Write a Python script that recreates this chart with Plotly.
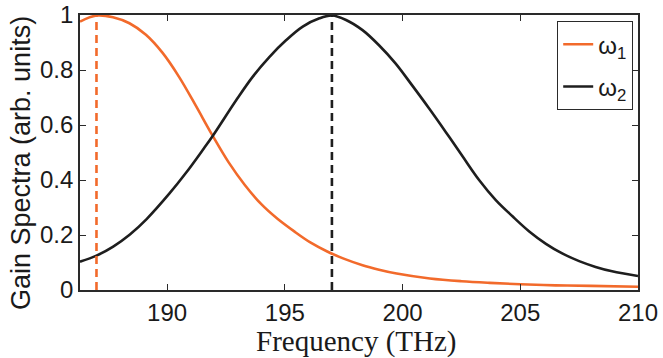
import plotly.graph_objects as go

# Frequencies (THz) and gain values
freq_w1 = [186.3, 187.0, 187.7, 188.4, 189.1, 189.8, 190.5, 191.2, 191.9, 192.6,
           193.3, 194.0, 194.7, 195.4, 196.1, 196.8, 197.5, 198.3, 199.0, 199.75,
           201.16, 202.5, 203.7, 205.0, 206.5, 208.0, 210.0]
gain_w1 = [0.976, 0.998, 0.992, 0.97, 0.928, 0.863, 0.776, 0.673, 0.566, 0.466,
           0.382, 0.312, 0.258, 0.213, 0.172, 0.14, 0.114, 0.09, 0.074, 0.06,
           0.042, 0.032, 0.026, 0.021, 0.017, 0.015, 0.012]

freq_w2 = [186.3, 187.0, 187.71, 188.42, 189.13, 190.11, 190.82, 191.52, 191.95, 192.94,
           193.64, 194.35, 195.06, 195.76, 196.47, 197.0, 197.6, 198.3, 199.0, 199.7,
           200.4, 201.13, 201.84, 202.54, 203.25, 203.96, 204.67, 205.38, 206.09, 206.8,
           207.5, 208.2, 208.9, 210.0]
gain_w2 = [0.103, 0.125, 0.158, 0.202, 0.258, 0.352, 0.428, 0.51, 0.562, 0.691,
           0.776, 0.848, 0.909, 0.958, 0.988, 0.998, 0.982, 0.945, 0.89, 0.824,
           0.745, 0.66, 0.574, 0.487, 0.4, 0.327, 0.268, 0.213, 0.168, 0.132,
           0.105, 0.084, 0.068, 0.051]

peak_freqs = [187.0, 197.0]
series_names = ["ω<sub>1</sub>", "ω<sub>2</sub>"]
x_ticks = [190, 195, 200, 205, 210]
y_ticks = [0, 0.2, 0.4, 0.6, 0.8, 1]
y_tick_labels = ["0", "0.2", "0.4", "0.6", "0.8", "1"]

ORANGE = "#F26A2B"
BLACK = "#1E1E1E"
AXC = "#2a2a2a"
SANS = "Liberation Sans, Arial, sans-serif"

fig = go.Figure()
fig.add_trace(go.Scatter(x=freq_w1, y=gain_w1, mode="lines", name=series_names[0],
                         legendgroup="a",
                         line=dict(color=ORANGE, width=2.6, shape="spline", smoothing=1.0)))
fig.add_trace(go.Scatter(x=freq_w2, y=gain_w2, mode="lines", name=series_names[1],
                         legendgroup="b",
                         line=dict(color=BLACK, width=2.6, shape="spline", smoothing=1.0)))
for pf, c in zip(peak_freqs, [ORANGE, BLACK]):
    fig.add_trace(go.Scatter(x=[pf, pf], y=[0, 1], mode="lines", showlegend=False,
                             line=dict(color=c, width=2.6, dash="8px,5px")))

axis_common = dict(showline=True, linecolor=AXC, linewidth=1.6, mirror="ticks",
                   ticks="inside", ticklen=6, tickcolor=AXC, tickwidth=1,
                   showgrid=False, zeroline=False, automargin=False,
                   tickfont=dict(family=SANS, size=24, color="#1a1a1a"))

fig.update_layout(
    width=663, height=358,
    margin=dict(l=80, r=25, t=15, b=68),
    plot_bgcolor="white", paper_bgcolor="white",
    xaxis=dict(range=[186.3, 210], tickvals=x_ticks, **axis_common),
    yaxis=dict(range=[0, 1.0], tickvals=y_ticks, ticktext=y_tick_labels, **axis_common),
    legend=dict(x=(633 - 80) / 558, y=(290 - 21) / 275, xanchor="right", yanchor="top",
                bgcolor="white", bordercolor=AXC, borderwidth=1.2,
                font=dict(family=SANS, size=24, color="#1a1a1a"),
                itemwidth=30, tracegroupgap=8),
    showlegend=True,
    annotations=[
        dict(text="Frequency (THz)", xref="paper", yref="paper",
             x=(356 - 80) / 558, y=-(341 - 290) / 275, xanchor="center", yanchor="middle",
             showarrow=False,
             font=dict(family="Liberation Serif, DejaVu Serif, serif", size=29, color="#1a1a1a")),
        dict(text="Gain Spectra (arb. units)", xref="paper", yref="paper", textangle=-90,
             x=-(80 - 21) / 558, y=(290 - 163) / 275, xanchor="center", yanchor="middle",
             showarrow=False,
             font=dict(family=SANS, size=27, color="#1a1a1a")),
    ],
)

fig.write_html("out.html")
